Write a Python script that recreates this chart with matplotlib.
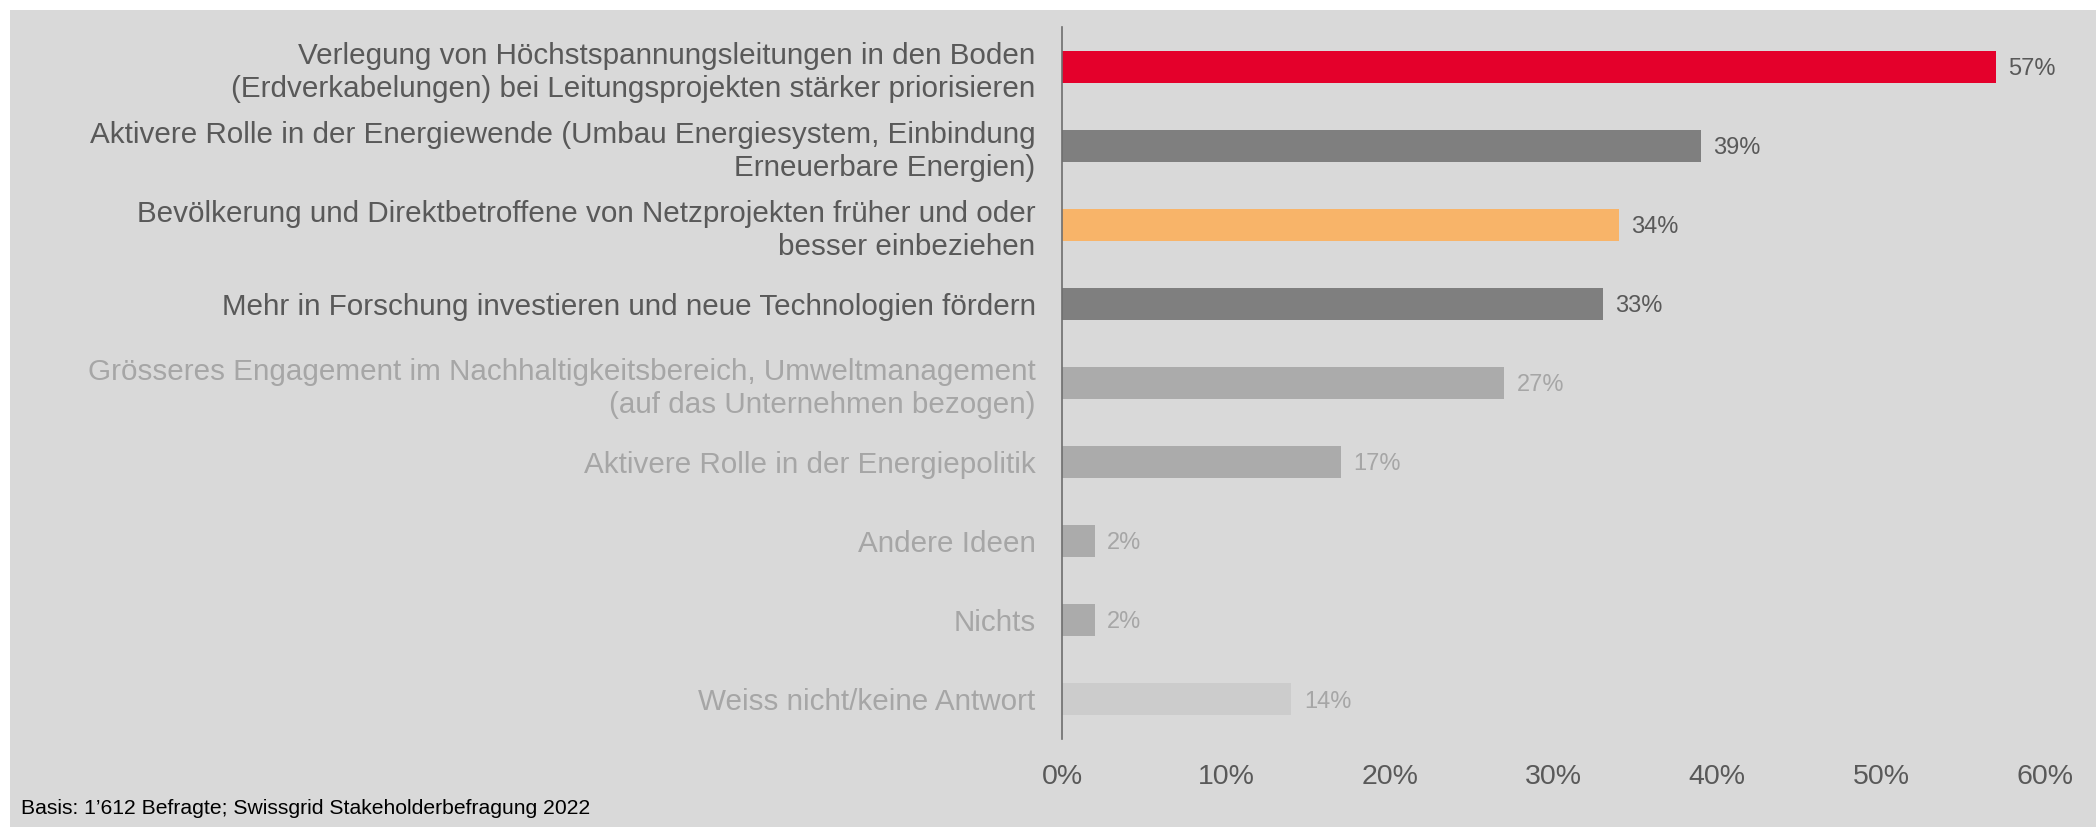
import matplotlib.pyplot as plt
from matplotlib.patches import Rectangle

categories = [
    "Verlegung von Höchstspannungsleitungen in den Boden\n(Erdverkabelungen) bei Leitungsprojekten stärker priorisieren",
    "Aktivere Rolle in der Energiewende (Umbau Energiesystem, Einbindung\nErneuerbare Energien)",
    "Bevölkerung und Direktbetroffene von Netzprojekten früher und oder\nbesser einbeziehen",
    "Mehr in Forschung investieren und neue Technologien fördern",
    "Grösseres Engagement im Nachhaltigkeitsbereich, Umweltmanagement\n(auf das Unternehmen bezogen)",
    "Aktivere Rolle in der Energiepolitik",
    "Andere Ideen",
    "Nichts",
    "Weiss nicht/keine Antwort",
]
values = [57, 39, 34, 33, 27, 17, 2, 2, 14]
bar_colors = ["#e4002b", "#7f7f7f", "#f8b469", "#7f7f7f",
              "#ababab", "#ababab", "#ababab", "#ababab", "#cccccc"]
text_colors = ["#595959"] * 4 + ["#a6a6a6"] * 5
xticks = [0, 10, 20, 30, 40, 50, 60]

plt.rcParams['font.family'] = ['Liberation Sans', 'DejaVu Sans']

W, H = 2096, 827
fig = plt.figure(figsize=(W / 100, H / 100), dpi=100, facecolor="white")
fig.patches.append(Rectangle((10 / W, 0), 1, (H - 10) / H, transform=fig.transFigure,
                             facecolor="#d9d9d9", edgecolor="none", linewidth=0, zorder=-10))

ax = fig.add_axes([1062 / W, (H - 739) / H, (2045 - 1062) / W, (739 - 27) / H])
ax.set_facecolor("none")
ax.set_zorder(5)

y = list(range(len(values)))
ax.barh(y, values, height=0.405, color=bar_colors, zorder=2)
ax.set_ylim(len(values) - 0.5, -0.5)
ax.set_xlim(0, 60)

for yi, v, c in zip(y, values, text_colors):
    ax.annotate(f"{v}%", (v, yi), xytext=(9, -1.5), textcoords="offset points",
                va="center", ha="left", fontsize=17, color=c)

ax.set_yticks(y)
ax.set_yticklabels(categories, fontsize=21.3, linespacing=1.25)
for lab, c in zip(ax.get_yticklabels(), text_colors):
    lab.set_color(c)
ax.set_xticks(xticks)
ax.set_xticklabels([f"{t}%" for t in xticks], fontsize=20.5, color="#595959")
ax.tick_params(axis="y", length=0, pad=19)
ax.tick_params(axis="x", length=0, pad=18)

for s in ["top", "right", "bottom"]:
    ax.spines[s].set_visible(False)
ax.spines["left"].set_color("#6e6e6e")
ax.spines["left"].set_linewidth(1.2)

fig.text(21 / W, 1 - 809 / H, "Basis: 1\u2019612 Befragte; Swissgrid Stakeholderbefragung 2022",
         fontsize=15.2, color="black", va="center", ha="left", zorder=6)

fig.savefig("out.png", dpi=100, facecolor=fig.get_facecolor())
